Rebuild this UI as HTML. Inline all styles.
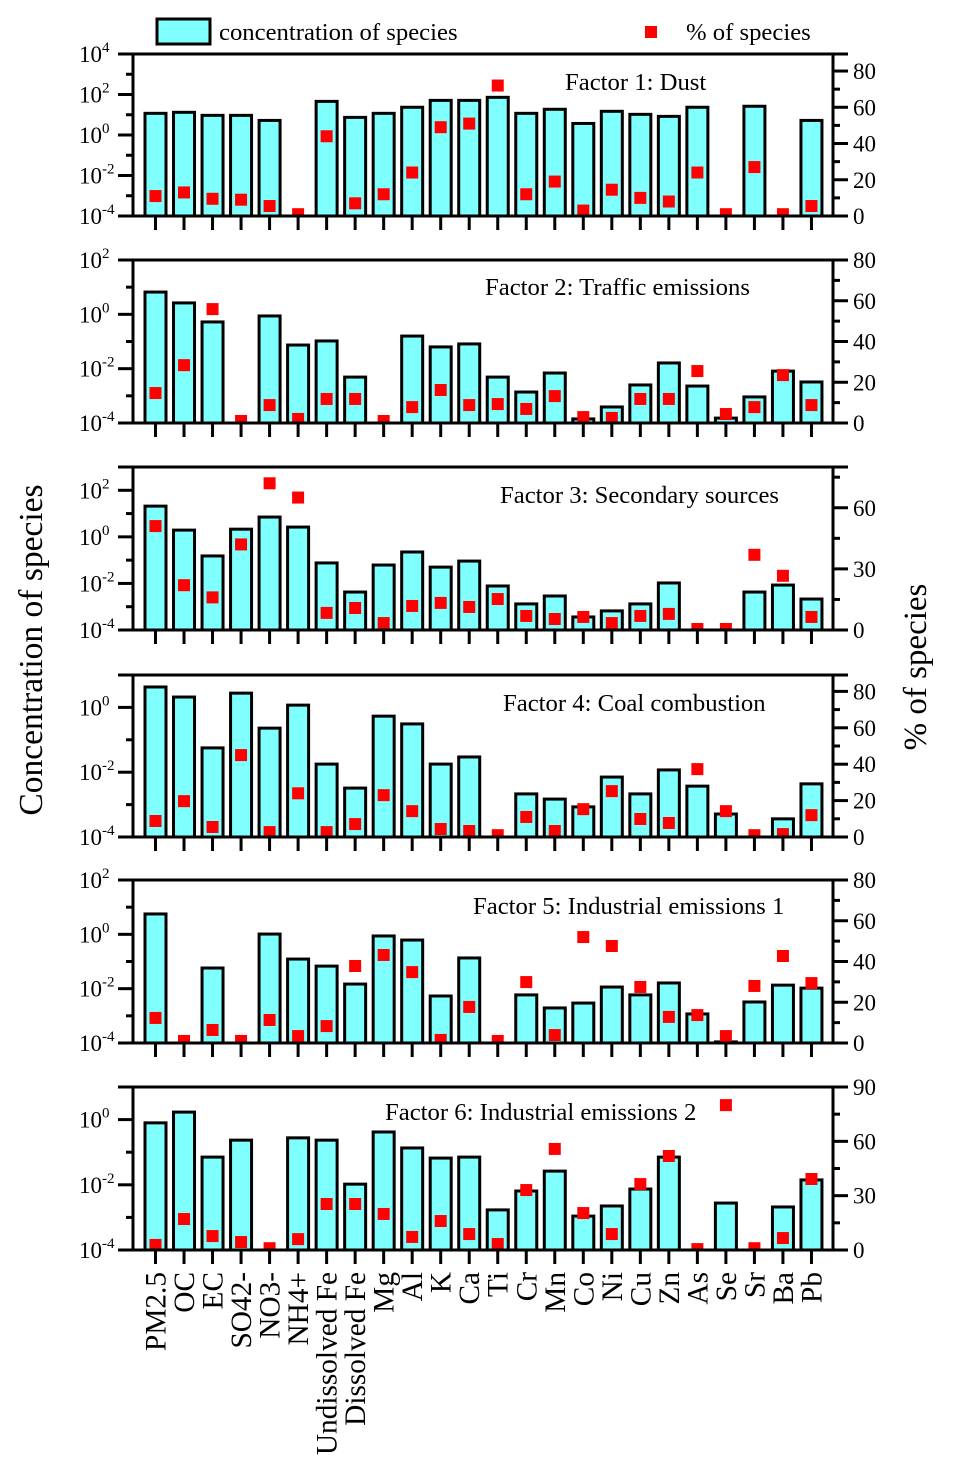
<!DOCTYPE html>
<html><head><meta charset="utf-8"><style>
html,body{margin:0;padding:0;background:#fff;}
svg{display:block;font-family:"Liberation Serif",serif;}
</style></head><body>
<svg id="chart" width="953" height="1472" viewBox="0 0 953 1472" xmlns="http://www.w3.org/2000/svg"></svg>
<script>
const categories = ["PM2.5","OC","EC","SO42-","NO3-","NH4+","Undissolved Fe","Dissolved Fe","Mg","Al","K","Ca","Ti","Cr","Mn","Co","Ni","Cu","Zn","As","Se","Sr","Ba","Pb"];
const factorTitles = ["Factor 1: Dust","Factor 2: Traffic emissions","Factor 3: Secondary sources","Factor 4: Coal combustion","Factor 5: Industrial emissions 1","Factor 6: Industrial emissions 2"];
// log10 of concentration (null = no bar)
const concF1 = [1.07,1.12,0.97,0.97,0.72,null,1.66,0.87,1.07,1.37,1.71,1.71,1.86,1.07,1.27,0.57,1.17,1.02,0.92,1.37,null,1.42,null,0.72];
const concF2 = [0.82,0.42,-0.28,null,-0.06,-1.13,-0.98,-2.31,null,-0.80,-1.20,-1.09,-2.31,-2.86,-2.16,-3.85,-3.41,-2.60,-1.79,-2.64,-3.82,-3.04,-2.09,-2.49];
const concF3 = [1.32,0.29,-0.82,0.33,0.85,0.42,-1.12,-2.37,-1.21,-0.65,-1.30,-1.04,-2.11,-2.88,-2.54,-3.44,-3.18,-2.88,-1.98,null,null,-2.37,-2.07,-2.67];
const concF4 = [0.63,0.32,-1.25,0.44,-0.64,0.07,-1.75,-2.49,-0.27,-0.51,-1.75,-1.53,null,-2.67,-2.83,-3.07,-2.15,-2.67,-1.93,-2.43,-3.29,null,-3.44,-2.36];
const concF5 = [0.75,null,-1.24,null,0.01,-0.91,-1.17,-1.83,-0.06,-0.21,-2.27,-0.87,null,-2.23,-2.71,-2.53,-1.94,-2.23,-1.79,-2.93,-3.96,-2.49,-1.87,-1.98];
const concF6 = [-0.10,0.23,-1.15,-0.63,null,-0.56,-0.63,-1.98,-0.38,-0.87,-1.18,-1.15,-2.77,-2.19,-1.58,-2.96,-2.65,-2.13,-1.15,null,-2.56,null,-2.68,-1.85];
// % of species
const pctF1 = [11,13,9.5,9,5.5,1,44,7,12,24,49,51,72,12,19,3,14.5,10,8,24,1,27,1,5.5];
const pctF2 = [14.7,28.4,55.9,1,8.8,2,11.8,11.8,1,7.8,16.2,8.8,9.3,6.9,13.2,2.9,2.5,11.8,11.8,25.5,4.4,7.8,23.5,8.8];
const pctF3 = [51,22,16,42,72,65,8.4,10.8,3.4,11.8,13.3,11.3,15.2,6.9,5.4,6.4,3.4,6.9,7.9,0.5,0.5,36.9,26.6,6.4];
const pctF4 = [8.8,19.7,5.5,45,2.7,24,2.7,7.1,23,14.2,4.4,3.3,1,11,3.3,15.3,25.2,9.9,7.7,37.3,14.2,1,1.6,12];
const pctF5 = [12.3,1,6.4,1,11.3,3.4,8.3,37.8,43.2,34.8,1.5,17.7,1,29.9,3.9,52,47.6,27.5,12.8,13.7,3.4,28,42.7,29.4];
const pctF6 = [2.8,17.1,7.7,4.4,1,6,25.4,25.4,19.9,7.2,16,8.8,3.3,33.1,55.8,20.4,8.8,36.4,51.9,0.5,80,1,6.6,39.2];
const concAll = [concF1,concF2,concF3,concF4,concF5,concF6];
const pctAll = [pctF1,pctF2,pctF3,pctF4,pctF5,pctF6];

const NS="http://www.w3.org/2000/svg";
const svg=document.getElementById('chart');
function mk(tag,attrs,parent){const e=document.createElementNS(NS,tag);for(const k in attrs)e.setAttribute(k,attrs[k]);(parent||svg).appendChild(e);return e;}

const X0=133, X1=833, step=28.52, firstC=155.5, barW=21;
const xC=i=>firstC+i*step;
const panels=[
 {top:54,bot:216,lmin:-4,lmax:4,lab:[-4,-2,0,2,4],minor:[-3,-1,1,3],pmax:89.4,plab:[0,20,40,60,80],pminor:[10,30,50,70],tx:565,ty:90},
 {top:260,bot:423,lmin:-4,lmax:2,lab:[-4,-2,0,2],minor:[-3,-1,1],pmax:80,plab:[0,20,40,60,80],pminor:[10,30,50,70],tx:485,ty:295},
 {top:467,bot:630,lmin:-4,lmax:3,lab:[-4,-2,0,2],minor:[-3,-1,1],pmax:80,plab:[0,30,60],pminor:[15,45,75],tx:500,ty:503},
 {top:675,bot:837,lmin:-4,lmax:1,lab:[-4,-2,0],minor:[-3,-1],pmax:89,plab:[0,20,40,60,80],pminor:[10,30,50,70],tx:503,ty:711},
 {top:880,bot:1043,lmin:-4,lmax:2,lab:[-4,-2,0,2],minor:[-3,-1,1],pmax:80,plab:[0,20,40,60,80],pminor:[10,30,50,70],tx:473,ty:914},
 {top:1087,bot:1250,lmin:-4,lmax:1,lab:[-4,-2,0],minor:[-3,-1],pmax:90,plab:[0,30,60,90],pminor:[15,45,75],tx:385,ty:1120}
];

panels.forEach((p,pi)=>{
  const g=mk('g',{});
  
  
  const yL=v=>p.bot-(v-p.lmin)/(p.lmax-p.lmin)*(p.bot-p.top);
  const yR=v=>p.bot-v/p.pmax*(p.bot-p.top);
  const cid='clip'+pi;
  const cp=mk('clipPath',{id:cid},g); mk('rect',{x:X0,y:p.top,width:X1-X0,height:p.bot-p.top},cp);
  const marks=mk('g',{'clip-path':'url(#'+cid+')'},g);
  concAll[pi].forEach((v,i)=>{
    if(v===null)return;
    const r=mk('rect',{x:xC(i)-barW/2,y:yL(v),width:barW,height:p.bot-yL(v)+3,fill:'#80ffff',stroke:'#000','stroke-width':3},marks);
    
    
  });
  pctAll[pi].forEach((v,i)=>{
    const r=mk('rect',{x:xC(i)-6,y:yR(v)-6,width:12,height:12,fill:'#ff0000'},marks);
    
    
  });
  const fr=mk('g',{stroke:'#000','stroke-width':3,fill:'none'},g);
  
  
  mk('line',{x1:118,y1:p.top,x2:848,y2:p.top},fr);
  mk('line',{x1:118,y1:p.bot,x2:848,y2:p.bot},fr);
  mk('line',{x1:X0,y1:p.top,x2:X0,y2:p.bot},fr);
  mk('line',{x1:X1,y1:p.top,x2:X1,y2:p.bot},fr);
  categories.forEach((c,i)=>mk('line',{x1:xC(i),y1:p.bot,x2:xC(i),y2:p.bot+14},fr));
  p.minor.forEach(v=>mk('line',{x1:X0-7,y1:yL(v),x2:X0,y2:yL(v)},fr));
  p.lab.forEach(v=>mk('line',{x1:118,y1:yL(v),x2:X0,y2:yL(v)},fr));
  p.pminor.forEach(v=>mk('line',{x1:X1,y1:yR(v),x2:X1+7,y2:yR(v)},fr));
  p.plab.forEach(v=>mk('line',{x1:X1,y1:yR(v),x2:848,y2:yR(v)},fr));
  p.lab.forEach(v=>{
    const t=mk('text',{x:79,y:yL(v)+8,'font-size':23,fill:'#000'},g);
    
    
    t.appendChild(document.createTextNode('10'));
    const s=mk('tspan',{dy:-10,'font-size':15},t); s.textContent=String(v);
  });
  p.plab.forEach(v=>{
    const t=mk('text',{x:853,y:yR(v)+8,'font-size':23,fill:'#000'},g);
    
    
    t.textContent=String(v);
  });
  const tt=mk('text',{x:p.tx,y:p.ty,'font-size':24.7,fill:'#000'},g);
  
  
  tt.textContent=factorTitles[pi];
});

categories.forEach((c,i)=>{
  const t=mk('text',{transform:'translate('+(xC(i)+10)+',1272) rotate(-90)','text-anchor':'end','font-size':29.3,fill:'#000'});
  
  
  t.textContent=c;
});

const lg=mk('g',{});


mk('rect',{x:157,y:19,width:53,height:25,fill:'#80ffff',stroke:'#000','stroke-width':3},lg);
const l1=mk('text',{x:219,y:40,'font-size':24.7},lg); l1.textContent='concentration of species';
mk('rect',{x:645,y:26,width:12,height:12,fill:'#ff0000'},lg);
const l2=mk('text',{x:686,y:40,'font-size':24.7},lg); l2.textContent='% of species';

const yt=mk('text',{transform:'translate(42,650) rotate(-90)','text-anchor':'middle','font-size':33.5});


yt.textContent='Concentration of species';
const yt2=mk('text',{transform:'translate(926,667) rotate(-90)','text-anchor':'middle','font-size':33});


yt2.textContent='% of species';
</script>
</body></html>
